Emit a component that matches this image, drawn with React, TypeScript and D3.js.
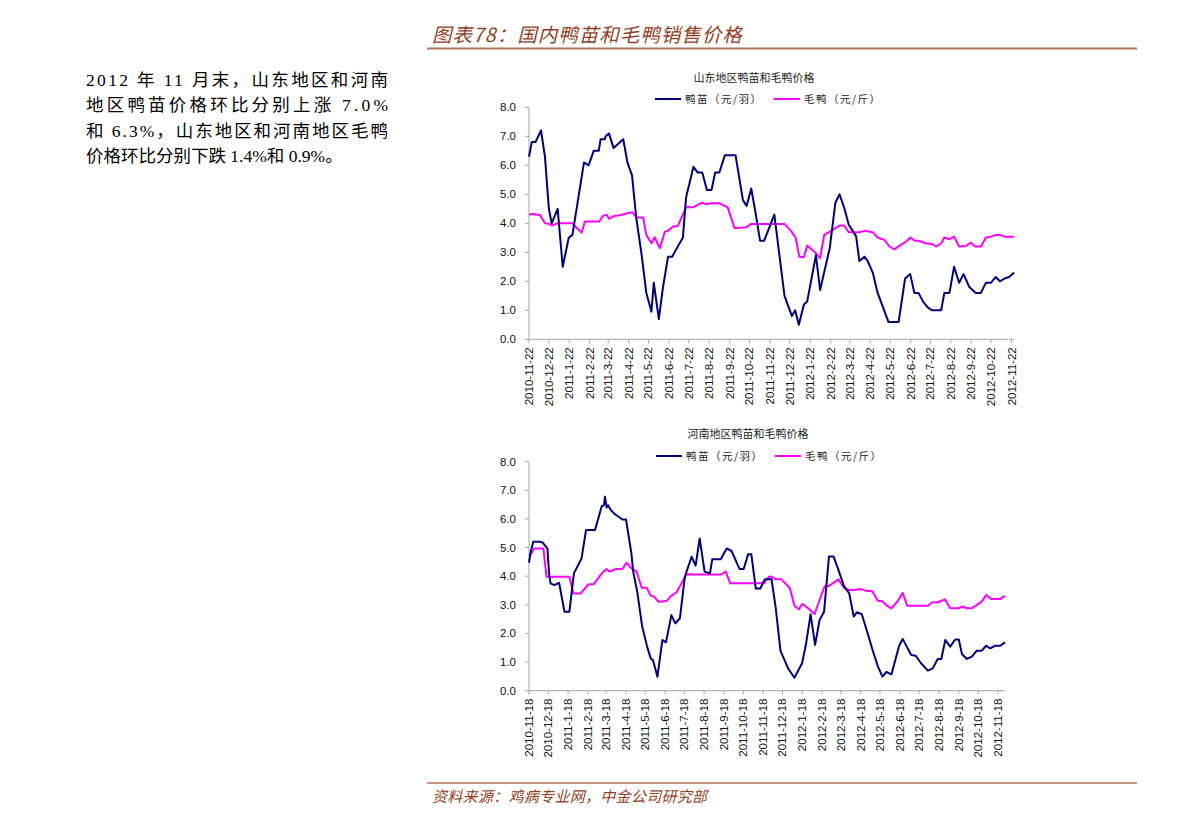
import * as d3 from "d3"

// 月度刻度标签
const shandongTicks = [
  "2010-11-22", "2010-12-22", "2011-1-22", "2011-2-22", "2011-3-22", "2011-4-22", "2011-5-22",
  "2011-6-22", "2011-7-22", "2011-8-22", "2011-9-22", "2011-10-22", "2011-11-22", "2011-12-22",
  "2012-1-22", "2012-2-22", "2012-3-22", "2012-4-22", "2012-5-22", "2012-6-22", "2012-7-22",
  "2012-8-22", "2012-9-22", "2012-10-22", "2012-11-22",
]
const henanTicks = [
  "2010-11-18", "2010-12-18", "2011-1-18", "2011-2-18", "2011-3-18", "2011-4-18", "2011-5-18",
  "2011-6-18", "2011-7-18", "2011-8-18", "2011-9-18", "2011-10-18", "2011-11-18", "2011-12-18",
  "2012-1-18", "2012-2-18", "2012-3-18", "2012-4-18", "2012-5-18", "2012-6-18", "2012-7-18",
  "2012-8-18", "2012-9-18", "2012-10-18", "2012-11-18",
]

// [周数(自首个刻度起), 价格]
const shandongSeedling: [number, number][] = [
  [0, 6.3], [0.6, 6.8], [1.4, 6.8], [2.6, 7.2], [3.45, 6.3], [4.3, 4.5], [4.9, 4.0], [6.2, 4.5],
  [7.3, 2.5], [8.6, 3.5], [9.4, 3.6], [10.6, 4.8], [11.9, 6.1], [12.9, 6.0], [14, 6.5], [15.1, 6.5],
  [15.5, 6.9], [16.4, 6.9], [16.6, 7.0], [17.3, 7.1], [18.3, 6.6], [20.4, 6.9], [21.3, 6.1],
  [22.3, 5.65], [23.2, 4.2], [24.3, 3.0], [25.4, 1.6], [26.5, 0.95], [27, 1.95], [28.1, 0.7],
  [29, 1.8], [30.1, 2.85], [31, 2.85], [32.2, 3.2], [33.3, 3.5], [34, 4.9], [35.6, 5.95],
  [36.5, 5.75], [37.5, 5.75], [38.5, 5.15], [39.5, 5.15], [40.3, 5.75], [41.2, 5.75], [42.4, 6.35],
  [44.7, 6.35], [46.3, 4.8], [47.1, 4.6], [48.1, 5.2], [49.1, 4.3], [50, 3.4], [50.9, 3.4],
  [52, 3.85], [53.1, 4.3], [55.3, 1.5], [56.9, 0.8], [57.6, 1.0], [58.4, 0.5], [59.5, 1.2],
  [60.2, 1.3], [62.1, 2.9], [63, 1.7], [65.1, 3.15], [66.3, 4.7], [67.2, 5.0], [68.2, 4.55],
  [69.2, 3.95], [70.8, 3.55], [71.5, 2.7], [72.6, 2.85], [73.3, 2.7], [74.4, 2.3], [75.45, 1.6],
  [77.8, 0.6], [80, 0.6], [81.4, 2.1], [82.5, 2.25], [83.4, 1.6], [84.3, 1.6], [85.3, 1.3],
  [86.3, 1.1], [87.2, 1.0], [89.2, 1.0], [89.9, 1.6], [91, 1.6], [92, 2.5], [93.1, 1.95],
  [94.05, 2.25], [95.3, 1.8], [96.7, 1.6], [97.8, 1.6], [98.9, 1.95], [100, 1.95], [101, 2.15],
  [101.9, 2.0], [103, 2.1], [103.9, 2.15], [105, 2.3],
]
const shandongDuck: [number, number][] = [
  [0, 4.3], [1, 4.32], [2.4, 4.29], [3.45, 4.0], [4.3, 3.98], [5, 3.92], [5.8, 3.98], [6.3, 4.0],
  [9.4, 4.0], [10.4, 3.83], [11.4, 3.68], [12.1, 4.06], [15.2, 4.06], [16, 4.26], [16.9, 4.29],
  [17.3, 4.15], [18.4, 4.25], [20, 4.29], [21.1, 4.34], [22.4, 4.38], [23.2, 4.2], [24.7, 4.2],
  [25.4, 3.6], [26.5, 3.31], [27.2, 3.52], [28.3, 3.14], [29.4, 3.71], [30.1, 3.74], [31.2, 3.89],
  [32.2, 3.91], [34, 4.55], [35.5, 4.55], [37.4, 4.71], [38.3, 4.66], [39.4, 4.69], [41.2, 4.69],
  [43, 4.55], [44.5, 3.83], [47, 3.86], [48.1, 3.98], [55.3, 3.98], [56.7, 3.74], [57.7, 3.51],
  [58.5, 2.85], [59.5, 2.83], [60.2, 3.23], [61.8, 3.02], [63, 2.8], [63.9, 3.6], [65.4, 3.74],
  [67.2, 3.92], [68.2, 3.92], [69.2, 3.69], [71.5, 3.69], [72.6, 3.74], [74.4, 3.69],
  [75.45, 3.51], [76.9, 3.43], [78, 3.2], [79.1, 3.1], [80.2, 3.23], [81.6, 3.37], [82.6, 3.51],
  [83.4, 3.4], [84.3, 3.4], [85.9, 3.31], [87.2, 3.29], [88.1, 3.2], [89.2, 3.31], [89.9, 3.51],
  [91, 3.45], [92, 3.54], [93.1, 3.2], [94.6, 3.22], [95.6, 3.33], [96.6, 3.2], [97.8, 3.2],
  [98.9, 3.51], [100, 3.54], [101, 3.6], [101.9, 3.6], [103, 3.54], [105, 3.54],
]
const henanSeedling: [number, number][] = [
  [0, 4.47], [0.37, 4.85], [0.96, 5.2], [2.4, 5.2], [3, 5.18], [4.1, 4.97], [4.5, 4.04], [4.8, 3.75],
  [5.6, 3.69], [6.7, 3.77], [7.9, 2.76], [9, 2.76], [10, 4.1], [11.7, 4.62], [12.7, 5.61],
  [14.7, 5.61], [16.2, 6.45], [16.7, 6.48], [16.9, 6.78], [17.3, 6.4], [17.6, 6.48], [18.2, 6.31],
  [19.1, 6.17], [20.2, 6.05], [20.8, 5.98], [21.6, 5.98], [22.8, 4.8], [23.2, 4.16], [24.1, 3.46],
  [25.2, 2.24], [26.3, 1.54], [27.1, 1.13], [27.6, 1.07], [28.6, 0.49], [29.7, 1.77], [30.5, 1.69],
  [31.7, 2.64], [32.6, 2.35], [33.6, 2.53], [34.7, 3.98], [36.2, 4.68], [37.1, 4.37], [38, 5.32],
  [39.1, 4.16], [40.3, 4.1], [40.8, 4.59], [42.7, 4.59], [44, 4.97], [45.1, 4.88], [46.9, 4.25],
  [47.8, 4.25], [48.8, 4.77], [49.5, 4.77], [50.5, 3.57], [51.5, 3.57], [52.5, 3.89], [54, 3.89],
  [54.9, 2.94], [56, 1.39], [57.7, 0.78], [59.1, 0.45], [60.8, 0.96], [61.7, 1.65], [62.7, 2.67],
  [63.7, 1.6], [64.7, 2.47], [65.7, 2.76], [66.8, 4.69], [67.8, 4.69], [68.9, 4.22], [70.1, 3.66],
  [71.3, 3.4], [72.3, 2.59], [73, 2.74], [74.1, 2.67], [75.3, 2.06], [76.5, 1.42], [77.7, 0.84],
  [78.7, 0.49], [79.6, 0.66], [80.7, 0.57], [82.4, 1.56], [83.2, 1.81], [85.1, 1.25], [86.1, 1.22],
  [87.3, 0.96], [88.8, 0.7], [89.9, 0.78], [91, 1.11], [91.8, 1.11], [92.7, 1.77], [93.8, 1.54],
  [94.9, 1.79], [95.7, 1.79], [96.4, 1.28], [97.5, 1.11], [98.6, 1.19], [99.7, 1.4], [100.8, 1.4],
  [101.8, 1.57], [102.7, 1.48], [103.8, 1.57], [104.9, 1.57], [106, 1.69],
]
const henanDuck: [number, number][] = [
  [0, 4.77], [0.4, 4.77], [1.1, 4.97], [3.2, 4.97], [3.9, 3.98], [9, 3.98], [9.9, 3.4], [11.5, 3.4],
  [13.2, 3.71], [14.5, 3.73], [16.2, 4.1], [17.3, 4.25], [18, 4.16], [19.3, 4.25], [20.8, 4.25],
  [21.7, 4.47], [22.8, 4.27], [23.9, 4.18], [25.1, 3.6], [26.2, 3.6], [27.1, 3.32], [27.9, 3.28],
  [28.8, 3.11], [30.6, 3.13], [31.7, 3.32], [32.8, 3.43], [35.1, 4.07], [37.3, 4.06], [42.8, 4.06],
  [43.8, 4.16], [44.8, 3.75], [52.3, 3.75], [53.4, 3.98], [54, 3.99], [54.9, 3.89], [56.2, 3.89],
  [58.1, 3.58], [59.1, 2.97], [60.1, 2.84], [60.8, 3.03], [61.7, 2.94], [63.6, 2.68], [64.7, 3.17],
  [65.8, 3.64], [66.9, 3.67], [68.9, 3.89], [70.2, 3.58], [71.4, 3.52], [72.5, 3.52], [73.9, 3.55],
  [75.3, 3.48], [76.4, 3.48], [77.7, 3.13], [78.6, 3.13], [79.7, 2.97], [80.7, 2.88], [82, 3.11],
  [83.2, 3.42], [84.2, 2.97], [88.8, 2.97], [89.9, 3.09], [91.1, 3.09], [92.6, 3.19], [93.8, 2.88],
  [95.7, 2.88], [96.5, 2.94], [97.5, 2.88], [98.6, 2.88], [99.7, 3.0], [100.8, 3.11], [101.8, 3.34],
  [102.9, 3.2], [104.9, 3.2], [106, 3.31],
]

const yTicks = [0, 1, 2, 3, 4, 5, 6, 7, 8]

const NAVY = "#000080"
const MAGENTA = "#FF00FF"
const AXIS = "#a6a6a6"
const BROWN = "#94401c"
const CJK = "'Noto Sans CJK SC', sans-serif"
const SANS = "'Liberation Sans', Arial, sans-serif"

const parseLabel = (s: string) => {
  const [y, m, d] = s.split("-").map(Number)
  return new Date(y, m - 1, d)
}

interface ChartProps {
  title: string
  ticks: string[]
  seedling: [number, number][]
  duck: [number, number][]
  titleX: number
  titleY: number
  legendY: number
  legendX: number
  top: number
  bottom: number
  left: number
  right: number
}

const PriceChart = ({ title, ticks, seedling, duck, titleX, titleY, legendY, legendX, top, bottom, left, right }: ChartProps) => {
  const start = parseLabel(ticks[0])
  const x = d3.scaleTime().domain([start, parseLabel(ticks[ticks.length - 1])]).range([left, right])
  const y = d3.scaleLinear().domain([0, 8]).range([bottom, top])
  const weekX = (w: number) => x(new Date(start.getTime() + w * 7 * 864e5))

  const line = d3
    .line<[number, number]>()
    .x((d) => weekX(d[0]))
    .y((d) => y(d[1]))

  const lastWeek = Math.max(seedling[seedling.length - 1][0], duck[duck.length - 1][0])

  return (
    <g>
      <text x={titleX} y={titleY} textAnchor="middle" fontSize={11} fontFamily={CJK} fill="#222">
        {title}
      </text>
      <line x1={legendX} x2={legendX + 26} y1={legendY} y2={legendY} stroke={NAVY} strokeWidth={2} />
      <text x={legendX + 30} y={legendY + 4} fontSize={10.5} letterSpacing={1.5} fontFamily={CJK} fill="#222">
        鸭苗（元/羽）
      </text>
      <line x1={legendX + 119} x2={legendX + 145} y1={legendY} y2={legendY} stroke={MAGENTA} strokeWidth={2} />
      <text x={legendX + 149} y={legendY + 4} fontSize={10.5} letterSpacing={1.5} fontFamily={CJK} fill="#222">
        毛鸭（元/斤）
      </text>

      {/* y 轴 */}
      <line x1={left} x2={left} y1={top} y2={bottom} stroke={AXIS} />
      {yTicks.map((t) => (
        <g key={t}>
          <line x1={left - 4} x2={left} y1={y(t)} y2={y(t)} stroke={AXIS} />
          <text x={left - 13} y={y(t) + 4} textAnchor="end" fontSize={11.5} fontFamily={SANS} fill="#111">
            {d3.format(".1f")(t)}
          </text>
        </g>
      ))}

      {/* x 轴 */}
      <line x1={left} x2={weekX(lastWeek)} y1={bottom} y2={bottom} stroke={AXIS} />
      {ticks.map((t) => {
        const tx = x(parseLabel(t))
        return (
          <g key={t}>
            <line x1={tx} x2={tx} y1={bottom} y2={bottom + 4} stroke={AXIS} />
            <text
              transform={`translate(${tx + 4},${bottom + 8}) rotate(-90)`}
              textAnchor="end"
              fontSize={11.5}
              fontFamily={SANS}
              fill="#111"
            >
              {t}
            </text>
          </g>
        )
      })}

      <path d={line(duck) ?? ""} fill="none" stroke={MAGENTA} strokeWidth={2} strokeLinejoin="round" />
      <path d={line(seedling) ?? ""} fill="none" stroke={NAVY} strokeWidth={2} strokeLinejoin="round" />
    </g>
  )
}

const paragraph = [
  "2012 年 11 月末，山东地区和河南",
  "地区鸭苗价格环比分别上涨 7.0%",
  "和 6.3%，山东地区和河南地区毛鸭",
  "价格环比分别下跌 1.4%和 0.9%。",
]

export default function App() {
  return (
    <svg
      width={1191}
      height={823}
      style={{ position: "absolute", left: 0, top: 0, background: "#fff" }}
    >
      <text x={432} y={42} fontSize={19.5} letterSpacing={1} fontStyle="italic" fontFamily={CJK} fill={BROWN}>
        图表78：国内鸭苗和毛鸭销售价格
      </text>
      <line x1={427} x2={1137} y1={48.5} y2={48.5} stroke="#b07552" strokeWidth={2} />

      {paragraph.map((s, i) => (
        <text
          key={i}
          x={86}
          y={86 + i * 25.3}
          fontSize={17.5}
          fontFamily={`'Liberation Serif', 'Noto Sans CJK SC', serif`}
          fill="#000"
          textLength={i < 3 ? 302 : undefined}
          lengthAdjust="spacing"
        >
          {s}
        </text>
      ))}

      <PriceChart
        title="山东地区鸭苗和毛鸭价格"
        ticks={shandongTicks}
        seedling={shandongSeedling}
        duck={shandongDuck}
        titleX={754}
        titleY={82}
        legendY={99}
        legendX={655}
        top={107.3}
        bottom={339.3}
        left={529}
        right={1011.5}
      />
      <PriceChart
        title="河南地区鸭苗和毛鸭价格"
        ticks={henanTicks}
        seedling={henanSeedling}
        duck={henanDuck}
        titleX={748}
        titleY={438}
        legendY={456}
        legendX={656}
        top={461.7}
        bottom={690.7}
        left={529}
        right={998}
      />

      <line x1={427} x2={1137} y1={783} y2={783} stroke="#b07552" strokeWidth={1.5} />
      <text x={432} y={802} fontSize={15} letterSpacing={0.3} fontStyle="italic" fontFamily={CJK} fill={BROWN}>
        资料来源：鸡病专业网，中金公司研究部
      </text>
    </svg>
  )
}
